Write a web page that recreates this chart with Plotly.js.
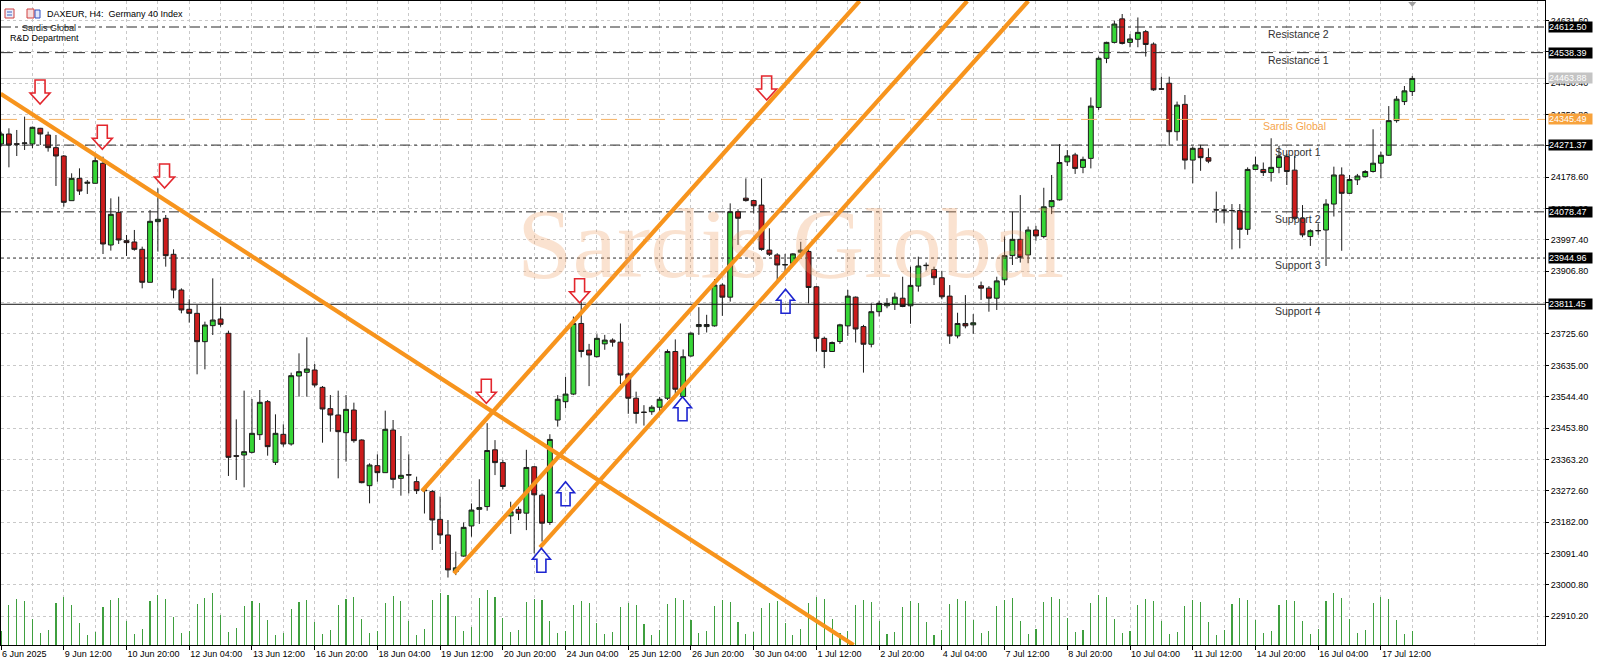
<!DOCTYPE html>
<html>
<head>
<meta charset="utf-8">
<script src="https://cdn.plot.ly/plotly-3.0.1.min.js"></script>
<style>
  html, body { margin: 0; padding: 0; background: #ffffff; }
  #chart { width: 1600px; height: 661px; }
</style>
</head>
<body>
<div id="chart"></div>
<script>
// DAXEUR H4 candles, one entry per bar (bar 0 = 6 Jun 2025 04:00)
const openP = [
  24274.5,24303.4,24275.5,24276.4,24274.5,24319.8,24300.5,24263.9,24239.8,24110.8,
  24175.3,24160.9,24160.9,24218.7,23982.7,24077.1,23995.2,23991.4,23970.2,23874.9,
  24050.1,24059.8,23955.8,23852.7,23796.9,23785.3,23703.4,23749.7,23769.0,23727.6,
  23374.1,23376.0,23383.7,23434.7,23530.1,23354.8,23435.7,23407.8,23604.2,23614.8,
  23621.6,23571.5,23509.9,23491.6,23440.5,23506.0,23419.3,23287.4,23345.2,23325.0,
  23448.2,23308.6,23319.2,23299.0,23275.0,23270.2,23190.0,23145.0,23039.0,23084.0,
  23171.0,23219.0,23227.0,23391.0,23354.0,23200.0,23219.0,23208.0,23342.0,23260.0,
  23181.0,23477.0,23530.0,23552.0,23756.0,23679.0,23660.0,23697.0,23708.0,23702.0,
  23610.0,23540.0,23500.0,23501.0,23514.0,23540.0,23675.0,23545.0,23662.0,23747.0,
  23747.0,23749.0,23867.0,23832.0,24079.0,24118.0,24111.0,24098.0,23968.0,23954.0,
  23925.0,23930.0,23962.0,23964.0,23862.0,23713.0,23675.0,23704.0,23749.0,23832.0,
  23747.0,23696.0,23790.0,23807.0,23812.0,23829.0,23807.0,23864.0,23923.0,23912.0,
  23888.0,23835.0,23720.0,23756.0,23752.0,23865.0,23858.0,23829.0,23882.0,23952.0,
  23999.0,23954.0,24026.0,24007.0,24093.0,24113.0,24223.0,24243.0,24207.0,24233.0,
  24380.0,24522.0,24568.0,24636.0,24568.0,24577.0,24599.0,24563.0,24434.0,24450.0,
  24310.0,24389.0,24228.0,24262.0,24235.0,24084.5,24084.0,24082.5,24082.0,24028.0,
  24201.0,24201.0,24192.0,24207.0,24238.0,24199.0,24060.0,24007.0,24024.5,24026.0,
  24101.0,24185.0,24132.0,24171.0,24180.0,24195.0,24219.0,24242.0,24342.0,24397.0,
  24426.0
];
const highP = [
  24310.1,24319.8,24315.0,24353.5,24324.6,24321.0,24310.1,24300.5,24242.7,24189.8,
  24204.2,24170.5,24237.9,24237.9,24117.5,24122.4,24011.6,24026.1,23977.9,24083.8,
  24146.4,24069.4,23970.2,23857.5,23825.8,23809.4,23761.2,23886.4,23804.6,23735.2,
  23479.0,23561.9,23537.8,23563.8,23534.9,23493.5,23464.6,23613.9,23669.7,23716.0,
  23638.9,23575.3,23549.3,23561.9,23549.3,23527.2,23421.3,23351.9,23377.9,23504.1,
  23477.1,23430.9,23377.9,23313.4,23280.0,23275.0,23256.0,23188.0,23097.0,23181.0,
  23236.0,23306.0,23468.0,23419.0,23362.0,23241.0,23227.0,23391.0,23344.0,23265.0,
  23436.0,23549.0,23602.0,23776.0,23819.0,23697.0,23725.0,23723.0,23713.0,23756.0,
  23614.0,23559.0,23520.0,23520.0,23544.0,23681.0,23710.0,23681.0,23730.0,23803.0,
  23781.0,23884.0,23872.0,24103.0,24086.0,24175.0,24113.0,24175.0,24031.0,23959.0,
  23957.0,23959.0,23992.0,23978.0,23864.0,23718.0,23704.0,23755.0,23853.0,23834.0,
  23752.0,23814.0,23822.0,23829.0,23845.0,23891.0,23920.0,23949.0,23932.0,23920.0,
  23908.0,23867.0,23787.0,23838.0,23783.0,23877.0,23864.0,23891.0,24007.0,24079.0,
  24127.0,24036.0,24038.0,24148.0,24185.0,24274.0,24257.0,24249.0,24238.0,24409.0,
  24527.0,24570.0,24631.0,24650.0,24592.0,24640.0,24604.0,24568.0,24469.0,24469.0,
  24397.0,24416.0,24267.0,24272.0,24262.0,24137.0,24098.0,24101.0,24101.0,24207.0,
  24238.0,24221.0,24291.0,24269.0,24246.0,24240.0,24098.0,24028.0,24045.0,24115.0,
  24209.0,24207.0,24185.0,24188.0,24199.0,24317.0,24252.0,24384.0,24413.0,24442.0,
  24471.0
];
const lowP = [
  24267.0,24207.1,24239.8,24257.2,24262.0,24271.6,24252.4,24153.2,24093.5,24110.8,
  24127.2,24130.1,24160.9,23956.7,23966.4,23985.6,23951.0,23966.4,23857.5,23874.9,
  23963.5,23920.1,23828.7,23785.3,23758.4,23609.1,23623.5,23722.7,23746.8,23315.4,
  23303.8,23282.6,23380.8,23419.3,23374.1,23347.1,23400.1,23403.0,23544.5,23544.5,
  23571.5,23411.6,23443.4,23308.6,23356.8,23411.6,23294.2,23236.4,23299.0,23325.0,
  23279.7,23258.5,23265.3,23263.3,23207.0,23101.6,23119.0,23022.0,23029.0,23082.0,
  23140.0,23177.0,23215.0,23318.0,23277.0,23148.0,23188.0,23159.0,23092.0,23126.0,
  23174.0,23458.0,23511.0,23549.0,23658.0,23575.0,23658.0,23680.0,23689.0,23581.0,
  23495.0,23467.0,23461.0,23492.0,23496.0,23535.0,23549.0,23543.0,23660.0,23723.0,
  23730.0,23747.0,23778.0,23819.0,23983.0,24108.0,24074.0,23966.0,23951.0,23874.0,
  23901.0,23925.0,23949.0,23814.0,23675.0,23627.0,23674.0,23697.0,23720.0,23701.0,
  23614.0,23687.0,23776.0,23800.0,23795.0,23803.0,23755.0,23848.0,23909.0,23867.0,
  23826.0,23697.0,23713.0,23742.0,23726.0,23824.0,23790.0,23795.0,23867.0,23925.0,
  23932.0,23930.0,23995.0,24002.0,24072.0,24111.0,24211.0,24188.0,24190.0,24204.0,
  24373.0,24508.0,24565.0,24562.0,24554.0,24554.0,24527.0,24428.0,24431.0,24269.0,
  24284.0,24201.0,24161.0,24197.0,24219.0,24047.0,24045.0,23970.0,23973.0,24012.0,
  24199.0,24182.0,24166.0,24190.0,24156.0,24055.0,24005.0,23980.0,24012.0,23922.0,
  24065.0,23966.0,24130.0,24156.0,24178.0,24192.0,24175.0,24240.0,24336.0,24387.0,
  24413.0
];
const closeP = [
  24303.4,24271.6,24273.5,24277.4,24322.7,24303.4,24263.9,24239.8,24106.0,24175.3,
  24138.7,24163.8,24226.4,23985.6,24071.3,23997.2,23989.5,23970.2,23874.9,24051.1,
  24056.9,23951.9,23852.7,23795.0,23785.3,23703.4,23751.6,23766.0,23753.5,23369.3,
  23372.5,23385.6,23438.6,23528.2,23400.1,23438.6,23407.8,23605.2,23616.8,23624.5,
  23578.2,23508.9,23491.6,23443.4,23507.9,23417.4,23296.1,23347.1,23325.0,23450.2,
  23305.7,23317.3,23318.2,23273.0,23273.0,23188.3,23145.0,23044.0,23050.0,23167.0,
  23217.0,23224.0,23389.0,23354.0,23285.0,23212.0,23208.0,23340.0,23261.0,23179.0,
  23421.0,23537.0,23552.0,23756.0,23675.0,23665.0,23713.0,23708.0,23702.0,23607.0,
  23540.0,23496.0,23499.0,23514.0,23537.0,23675.0,23566.0,23660.0,23728.0,23753.0,
  23753.0,23867.0,23832.0,24079.0,24060.0,24111.0,24096.0,23970.0,23956.0,23925.0,
  23926.0,23957.0,23968.0,23860.0,23713.0,23675.0,23701.0,23752.0,23835.0,23740.0,
  23696.0,23790.0,23814.0,23814.0,23832.0,23805.0,23866.0,23922.0,23924.0,23888.0,
  23833.0,23720.0,23756.0,23749.0,23758.0,23858.0,23829.0,23879.0,23952.0,23999.0,
  23947.0,24026.0,24009.0,24093.0,24111.0,24221.0,24240.0,24204.0,24230.0,24384.0,
  24522.0,24568.0,24621.0,24565.0,24578.0,24597.0,24562.0,24431.0,24433.0,24310.0,
  24387.0,24228.0,24262.0,24235.0,24225.0,24084.0,24083.0,24082.0,24028.0,24201.0,
  24214.0,24192.0,24207.0,24238.0,24195.0,24060.0,24012.0,24024.0,24024.0,24101.0,
  24185.0,24132.0,24172.0,24182.0,24195.0,24219.0,24242.0,24342.0,24404.0,24428.0,
  24463.88
];
// tick volume per bar
const volume = [
  14,40,46,44,26,12, 15,42,48,40,22,10, 13,38,45,47,24,11, 16,44,50,46,28,12,
  14,41,47,52,30,13, 17,39,44,42,25,10, 12,36,43,45,23,11, 15,40,46,48,26,12,
  14,42,49,44,24,10, 16,45,52,50,29,14, 18,47,55,48,27,13, 15,43,46,45,24,12,
  14,40,44,42,22,11, 13,38,42,40,21,10, 15,41,47,45,25,12, 14,39,45,43,23,11,
  13,37,42,44,22,10, 16,42,48,46,26,12, 14,40,45,43,24,11, 13,38,44,42,23,10,
  15,41,46,44,25,12, 14,39,45,47,24,11, 16,43,48,46,27,13, 15,42,50,48,26,12,
  14,40,46,44,24,11, 13,39,45,43,23,10, 15,41,47,45,25,12, 14,40,45,44,24,11,
  16,44,52,47,26,12, 15,42,48,46,25,11, 14
];

const tickBars = [0,8,16,24,32,40,48,56,64,72,80,88,96,104,112,120,128,136,144,152,160,168,176];
const tickLabels = ["6 Jun 2025","9 Jun 12:00","10 Jun 20:00","12 Jun 04:00","13 Jun 12:00",
  "16 Jun 20:00","18 Jun 04:00","19 Jun 12:00","20 Jun 20:00","24 Jun 04:00","25 Jun 12:00",
  "26 Jun 20:00","30 Jun 04:00","1 Jul 12:00","2 Jul 20:00","4 Jul 04:00","7 Jul 12:00",
  "8 Jul 20:00","10 Jul 04:00","11 Jul 12:00","14 Jul 20:00","16 Jul 04:00","17 Jul 12:00"];
const priceTicks = [22910.20,23000.80,23091.40,23182.00,23272.60,23363.20,23453.80,23544.40,
  23635.00,23725.60,23816.20,23906.80,23997.40,24088.00,24178.60,24269.20,24359.80,24450.40,
  24541.00,24631.60];

// horizontal levels
const levelNames  = ["Resistance 2","Resistance 1","Sardis Global","Support 1","Support 2","Support 3","Support 4"];
const levelValues = [24612.50, 24538.39, 24345.49, 24271.37, 24078.47, 23944.96, 23811.45];
const bidPrice = 24463.88;

// drawing objects: trend lines (bar index, price)
const trendLines = [
  [-0.06, 24419.3, 108.74, 22827.1],
  [53.70, 23272.0, 109.50, 24687.6],
  [57.76, 23034.3, 123.24, 24687.6],
  [68.74, 23109.4, 131.02, 24687.6]
];
const sellArrows = [[4.97,24390.1],[12.91,24259.2],[20.85,24147.4],[61.89,23525.4],[73.79,23816.0],[97.65,24401.6]];
const buyArrows  = [[68.92,23106.5],[72.0,23298.9],[86.92,23544.5],[100.06,23854.7]];

const bars = openP.map((_, i) => i);
const FONT = "Liberation Sans, Arial, sans-serif";
const W = 1600, H = 661, ML = 1, MR = 55, MT = 1, MB = 16;
const PW = W - ML - MR, PH = H - MT - MB;
const px2x = px => (px - ML) / PW;
const py2y = py => 1 - (py - MT) / PH;

const levelStyle = [
  {color:"#2a2a2a", dash:"10px,4px,3px,4px"},
  {color:"#2a2a2a", dash:"12px,6px"},
  {color:"#f6b265", dash:"16px,8px"},
  {color:"#2a2a2a", dash:"10px,4px,3px,4px"},
  {color:"#2a2a2a", dash:"10px,4px,3px,4px"},
  {color:"#2a2a2a", dash:"3px,3px"},
  {color:"#111111", dash:"solid"}
];
const levelLabelX = [161.5, 161.5, 160.8, 162.3, 162.3, 162.3, 162.3];

const shapes = [];
// bid line
shapes.push({type:"line", xref:"paper", x0:0, x1:1, yref:"y", y0:bidPrice, y1:bidPrice,
  line:{color:"#c8c8c8", width:1}, layer:"below"});
levelValues.forEach((v, k) => {
  shapes.push({type:"line", xref:"paper", x0:0, x1:1, yref:"y", y0:v, y1:v,
    line:{color:levelStyle[k].color, width:1, dash:levelStyle[k].dash}});
});
trendLines.forEach(t => {
  shapes.push({type:"line", xref:"x", yref:"y", x0:t[0], y0:t[1], x1:t[2], y1:t[3],
    line:{color:"#f7941d", width:4.2}});
});
sellArrows.forEach(a => {
  shapes.push({type:"path", xref:"x", yref:"y", xsizemode:"pixel", ysizemode:"pixel",
    xanchor:a[0], yanchor:a[1],
    path:"M0,0L-10,11L-5,11L-5,24L5,24L5,11L10,11Z",
    line:{color:"#e3262d", width:1.6}, fillcolor:"rgba(255,255,255,0)"});
});
buyArrows.forEach(a => {
  shapes.push({type:"path", xref:"x", yref:"y", xsizemode:"pixel", ysizemode:"pixel",
    xanchor:a[0], yanchor:a[1],
    path:"M0,0L-9,-11L-4.5,-11L-4.5,-24L4.5,-24L4.5,-11L9,-11Z",
    line:{color:"#1d25d0", width:1.6}, fillcolor:"rgba(255,255,255,0)"});
});
// chart shift marker
shapes.push({type:"path", xref:"x", yref:"paper", xsizemode:"pixel", ysizemode:"pixel",
  xanchor:180, yanchor:1, path:"M-4,-1L4,-1L0,-6Z", line:{width:0}, fillcolor:"#a0a0a0"});
// title bar icons
shapes.push({type:"rect", xref:"paper", yref:"paper", x0:px2x(5), x1:px2x(14), y0:py2y(9), y1:py2y(18),
  line:{color:"#d04040", width:1}, fillcolor:"#e8eefc"});
shapes.push({type:"rect", xref:"paper", yref:"paper", x0:px2x(7), x1:px2x(12), y0:py2y(11.5), y1:py2y(12.5),
  line:{width:0}, fillcolor:"#4060c0"});
shapes.push({type:"rect", xref:"paper", yref:"paper", x0:px2x(7), x1:px2x(12), y0:py2y(14.5), y1:py2y(15.5),
  line:{width:0}, fillcolor:"#4060c0"});
shapes.push({type:"rect", xref:"paper", yref:"paper", x0:px2x(27), x1:px2x(34), y0:py2y(9), y1:py2y(18),
  line:{color:"#d04040", width:1}, fillcolor:"#f6dede"});
shapes.push({type:"rect", xref:"paper", yref:"paper", x0:px2x(35), x1:px2x(40), y0:py2y(10), y1:py2y(18),
  line:{color:"#3050c0", width:1}, fillcolor:"#dfe6fb"});

const annotations = [];
// watermark
annotations.push({xref:"paper", yref:"paper", x:px2x(790), y:py2y(243), xanchor:"center", yanchor:"middle",
  text:"Sardis Global", showarrow:false,
  font:{family:"Liberation Serif, Times New Roman, serif", size:100, color:"rgba(240,160,100,0.30)"}});
// header
annotations.push({xref:"paper", yref:"paper", x:px2x(45), y:py2y(14.5), xanchor:"left", yanchor:"middle",
  text:"DAXEUR, H4:\u00a0\u00a0Germany 40 Index", showarrow:false, font:{family:FONT, size:9, color:"#000"}});
annotations.push({xref:"paper", yref:"paper", x:px2x(20), y:py2y(27.5), xanchor:"left", yanchor:"middle",
  text:"Sardis Global", showarrow:false, font:{family:FONT, size:9, color:"#222"}});
annotations.push({xref:"paper", yref:"paper", x:px2x(8), y:py2y(38.5), xanchor:"left", yanchor:"middle",
  text:"R&amp;D Department", showarrow:false, font:{family:FONT, size:9, color:"#000"}});
// level names
levelNames.forEach((n, k) => {
  annotations.push({xref:"x", yref:"y", x:levelLabelX[k], y:levelValues[k], xanchor:"left", yanchor:"top",
    text:n, showarrow:false, borderpad:0,
    font:{family:FONT, size:10.5, color: k === 2 ? "#f5a54e" : "#333"}});
});
// price boxes on the scale
const boxFor = (v, bg) => ({xref:"paper", yref:"y", x:1, xshift:3, y:v, xanchor:"left", yanchor:"middle",
  text:v.toFixed(2), showarrow:false, bgcolor:bg, borderpad:0, width:43, height:10, align:"left",
  font:{family:FONT, size:9, color:"#ffffff"}});
levelValues.forEach((v, k) => annotations.push(boxFor(v, k === 2 ? "#f7a23c" : "#000000")));
annotations.push(boxFor(bidPrice, "#c4c4c4"));

const traces = [
  {type:"bar", x:bars, y:volume, yaxis:"y2", width:0.14,
   marker:{color:"#3f9f3f", line:{width:0}}, hoverinfo:"skip"},
  {type:"candlestick", x:bars, open:openP, high:highP, low:lowP, close:closeP,
   whiskerwidth:0, hoverinfo:"skip",
   increasing:{line:{color:"#1c1c1c", width:1}, fillcolor:"#36d636"},
   decreasing:{line:{color:"#1c1c1c", width:1}, fillcolor:"#cc1c1c"}}
];

const layout = {
  width:W, height:H,
  margin:{l:ML, r:MR, t:MT, b:MB, pad:0},
  paper_bgcolor:"#ffffff", plot_bgcolor:"#ffffff",
  showlegend:false, boxgap:0.38, boxgroupgap:0, bargap:0,
  font:{family:FONT, size:9, color:"#000"},
  xaxis:{
    type:"linear", range:[-0.01, 196.93], rangeslider:{visible:false},
    tickmode:"array", tickvals:tickBars, ticktext:tickLabels,
    ticks:"outside", ticklen:4, tickcolor:"#000", ticklabelposition:"outside right",
    tickfont:{family:FONT, size:9, color:"#000"},
    showgrid:true, gridcolor:"#c9c9c9", griddash:"3px,3px", gridwidth:1,
    minor:{tickmode:"linear", tick0:4, dtick:8, showgrid:true, gridcolor:"#c9c9c9", griddash:"3px,3px", ticks:""},
    showline:true, mirror:true, linecolor:"#000", linewidth:1, zeroline:false, fixedrange:true
  },
  yaxis:{
    range:[22827.1, 24687.6], side:"right",
    tickmode:"array", tickvals:priceTicks, tickformat:".2f",
    ticks:"outside", ticklen:3, tickcolor:"#000",
    tickfont:{family:FONT, size:9, color:"#000"},
    showgrid:true, gridcolor:"#c9c9c9", griddash:"3px,3px", gridwidth:1,
    showline:true, mirror:true, linecolor:"#000", linewidth:1, zeroline:false, fixedrange:true
  },
  yaxis2:{overlaying:"y", range:[0, PH], visible:false, fixedrange:true},
  shapes:shapes, annotations:annotations
};

Plotly.newPlot("chart", traces, layout, {displayModeBar:false, staticPlot:true});
</script>
</body>
</html>
